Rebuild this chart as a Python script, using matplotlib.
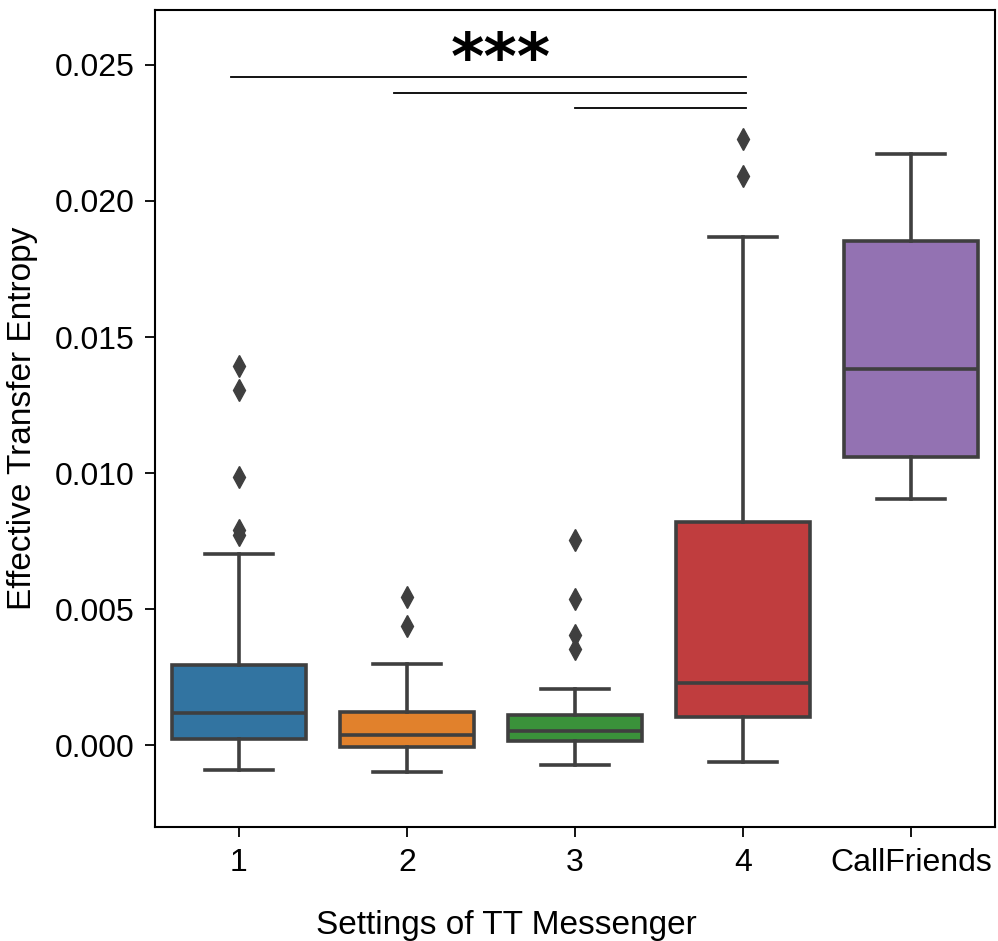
import matplotlib
matplotlib.use("Agg")
import matplotlib.pyplot as plt
from matplotlib.ticker import FormatStrFormatter

# box statistics
categories = ["1", "2", "3", "4", "CallFriends"]
q1 = [0.00022, -0.00007, 0.00015, 0.00103, 0.01059]
medians = [0.00118, 0.00037, 0.00051, 0.00228, 0.01382]
q3 = [0.00294, 0.00121, 0.00110, 0.00820, 0.01853]
whisker_low = [-0.00092, -0.00099, -0.00074, -0.00063, 0.00904]
whisker_high = [0.00702, 0.00298, 0.00206, 0.01868, 0.02173]
fliers = [
    [0.00772, 0.00790, 0.00985, 0.01305, 0.01393],
    [0.00438, 0.00544],
    [0.00353, 0.00404, 0.00537, 0.00754],
    [0.02092, 0.02228],
    [],
]
colors = ["#3274a1", "#e1812c", "#3a923a", "#c03d3e", "#9372b2"]

# significance brackets (start category, end category, height)
sig_start = [-0.05, 0.92, 2.0]
sig_end = [3.02, 3.02, 3.02]
sig_y = [0.02456, 0.02397, 0.02342]

plt.rcParams['font.family'] = ['Liberation Sans', 'DejaVu Sans']

fig = plt.figure(figsize=(9.98, 9.41), dpi=100)
ax = fig.add_axes([0.1553, 0.1211, 0.8417, 0.8683])

stats = []
for i in range(len(categories)):
    stats.append({
        "label": categories[i],
        "q1": q1[i], "med": medians[i], "q3": q3[i],
        "whislo": whisker_low[i], "whishi": whisker_high[i],
        "fliers": fliers[i],
    })

line_col = "#3f3f3f"
lw = 2.6
bp = ax.bxp(stats, positions=range(len(categories)), widths=0.8,
            patch_artist=True, showfliers=True,
            boxprops=dict(edgecolor=line_col, linewidth=lw),
            medianprops=dict(color=line_col, linewidth=lw),
            whiskerprops=dict(color=line_col, linewidth=lw),
            capprops=dict(color=line_col, linewidth=lw),
            flierprops=dict(marker="d", markerfacecolor=line_col,
                            markeredgecolor=line_col, markersize=11))
for patch, c in zip(bp["boxes"], colors):
    patch.set_facecolor(c)
# seaborn style caps: half of box width
for cap, pos in zip(bp["caps"], [p for p in range(len(categories)) for _ in (0, 1)]):
    cap.set_xdata([pos - 0.2, pos + 0.2])

for x0, x1, y in zip(sig_start, sig_end, sig_y):
    ax.plot([x0, x1], [y, y], color="black", linewidth=1.3)
ax.text(1.56, 0.02515, "***", ha="center", va="center", fontsize=46,
        fontweight="bold", family="DejaVu Sans")

ax.set_xlim(-0.5, 4.5)
ax.set_ylim(-0.00301, 0.02702)
ax.set_yticks([0.0, 0.005, 0.010, 0.015, 0.020, 0.025])
ax.yaxis.set_major_formatter(FormatStrFormatter("%.3f"))
ax.set_xticks(range(len(categories)))
ax.set_xticklabels(categories)
ax.tick_params(labelsize=23, length=7, width=1.3, pad=8)
for s in ax.spines.values():
    s.set_linewidth(1.5)

ax.set_xlabel("Settings of TT Messenger", fontsize=24)
ax.xaxis.set_label_coords(0.418, -0.12)
ax.xaxis.label.set_va("center")
ax.set_ylabel("Effective Transfer Entropy", fontsize=24, labelpad=12)

fig.savefig("out.png", dpi=100)
